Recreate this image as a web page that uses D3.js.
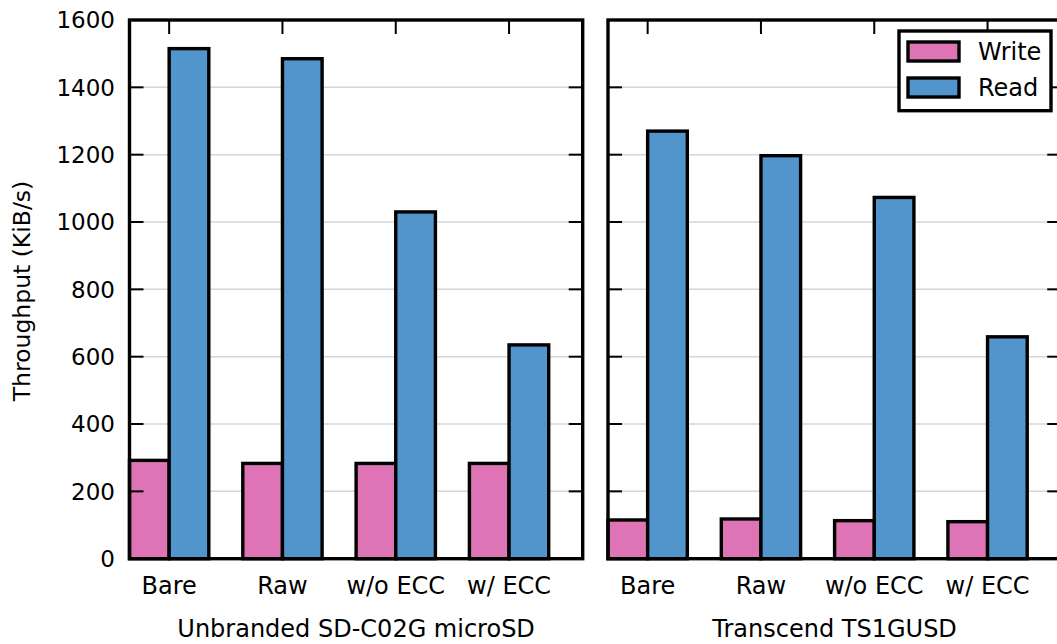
<!DOCTYPE html>
<html>
<head>
<meta charset="utf-8">
<script src="https://cdn.jsdelivr.net/npm/d3@7"></script>
<style>
  body { margin: 0; background: #fff; }
  svg text { font-family: "DejaVu Sans", sans-serif; fill: #000; }
</style>
</head>
<body>
<svg id="chart" width="1057" height="644"></svg>
<script>
var categories = ['Bare', 'Raw', 'w/o ECC', 'w/ ECC'];
var panelTitles = ['Unbranded SD-C02G microSD', 'Transcend TS1GUSD'];
var writeSD = [292, 283, 283, 283];
var readSD = [1515, 1485, 1030, 635];
var writeTS = [115, 118, 113, 110];
var readTS = [1270, 1197, 1073, 659];
var yTicks = [0, 200, 400, 600, 800, 1000, 1200, 1400, 1600];
var seriesNames = ['Write', 'Read'];
var seriesColors = ['#de73b5', '#5294cc'];

var svg = d3.select('#chart');
var barWidth = 0.35;
var tickLen = 14;

var yScale = d3.scaleLinear()
  .domain([0, 1600])
  .range([558.7, 20]);

var panels = [
  { x0: 129.5, write: writeSD, read: readSD, title: panelTitles[0], yLabels: true },
  { x0: 608, write: writeTS, read: readTS, title: panelTitles[1], yLabels: false }
];

panels.forEach(function (p) {
  var xScale = d3.scaleLinear()
    .domain([-0.35, 3.65])
    .range([p.x0, p.x0 + 453.2]);
  var left = xScale(-0.35), right = xScale(3.65);
  var top = yScale(1600), bottom = yScale(0);
  var g = svg.append('g');

  // grid
  g.selectAll('line.grid')
    .data(yTicks.filter(d => d > 0 && d < 1600))
    .enter().append('line')
    .attr('x1', left).attr('x2', right)
    .attr('y1', d => yScale(d)).attr('y2', d => yScale(d))
    .attr('stroke', '#d6d6d6').attr('stroke-width', 1.5);

  // bars
  var bars = [];
  categories.forEach(function (c, i) {
    bars.push({ x: i - barWidth, v: p.write[i], s: 0 });
    bars.push({ x: i, v: p.read[i], s: 1 });
  });
  g.selectAll('rect.bar')
    .data(bars)
    .enter().append('rect')
    .attr('x', d => xScale(d.x))
    .attr('width', d => xScale(d.x + barWidth) - xScale(d.x))
    .attr('y', d => yScale(d.v))
    .attr('height', d => yScale(0) - yScale(d.v))
    .attr('fill', d => seriesColors[d.s])
    .attr('stroke', '#000').attr('stroke-width', 3.4);

  // frame
  g.append('rect')
    .attr('x', left).attr('y', top)
    .attr('width', right - left).attr('height', bottom - top)
    .attr('fill', 'none').attr('stroke', '#000').attr('stroke-width', 3.4);

  // y ticks (inward, both sides)
  yTicks.forEach(function (t) {
    g.append('line').attr('x1', left).attr('x2', left + tickLen)
      .attr('y1', yScale(t)).attr('y2', yScale(t))
      .attr('stroke', '#000').attr('stroke-width', 2);
    g.append('line').attr('x1', right - tickLen).attr('x2', right)
      .attr('y1', yScale(t)).attr('y2', yScale(t))
      .attr('stroke', '#000').attr('stroke-width', 2);
  });
  // x ticks (inward, top and bottom)
  categories.forEach(function (c, i) {
    g.append('line').attr('x1', xScale(i)).attr('x2', xScale(i))
      .attr('y1', top).attr('y2', top + tickLen)
      .attr('stroke', '#000').attr('stroke-width', 2);
    g.append('text')
      .attr('x', xScale(i)).attr('y', 594)
      .attr('text-anchor', 'middle')
      .style('font-size', '24px')
      .text(c);
  });

  if (p.yLabels) {
    yTicks.forEach(function (t) {
      g.append('text')
        .attr('x', 115).attr('y', yScale(t))
        .attr('dy', '0.36em')
        .attr('text-anchor', 'end')
        .style('font-size', '23px')
        .text(t);
    });
  }

  g.append('text')
    .attr('x', (left + right) / 2).attr('y', 637)
    .attr('text-anchor', 'middle')
    .style('font-size', '24px')
    .text(p.title);
});

svg.append('text')
  .attr('transform', 'translate(29.5,291) rotate(-90)')
  .attr('text-anchor', 'middle')
  .style('font-size', '23.5px')
  .text('Throughput (KiB/s)');

// legend
var legend = svg.append('g');
legend.append('rect')
  .attr('x', 899).attr('y', 31).attr('width', 152).attr('height', 79.7)
  .attr('fill', '#fff').attr('stroke', '#000').attr('stroke-width', 3.4);
seriesNames.forEach(function (n, i) {
  legend.append('rect')
    .attr('x', 908).attr('y', 42 + i * 36).attr('width', 51).attr('height', 19)
    .attr('fill', seriesColors[i]).attr('stroke', '#000').attr('stroke-width', 3.4);
  legend.append('text')
    .attr('x', 978).attr('y', 60 + i * 36)
    .style('font-size', '24px')
    .text(n);
});
</script>
</body>
</html>
